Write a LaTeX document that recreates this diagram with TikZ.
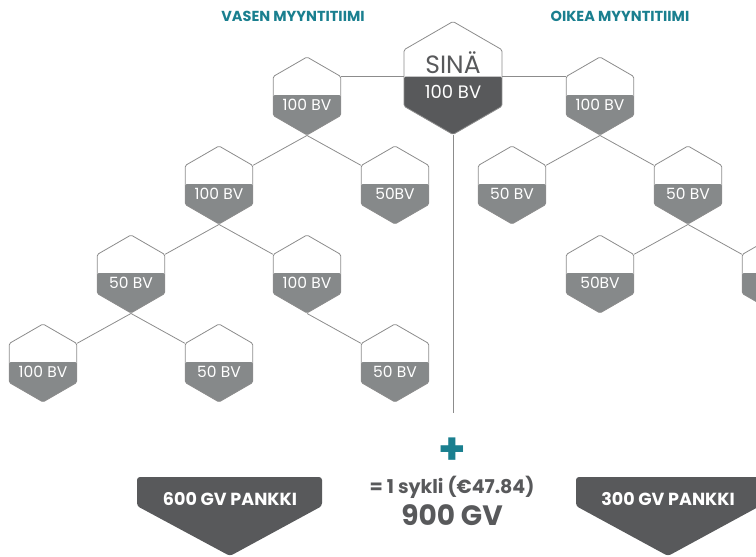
\documentclass[tikz,border=0pt]{standalone}
\usepackage{fontspec}
\setmainfont{Poppins}
\usetikzlibrary{shapes.geometric}
\definecolor{teamteal}{HTML}{1A7F8F}
\definecolor{darkhex}{HTML}{58595B}
\definecolor{midhex}{HTML}{86898A}
\definecolor{linegray}{HTML}{8C8C8C}
\tikzset{
	hexbox/.style={regular polygon, regular polygon sides=6, shape border rotate=30, minimum size=78pt, inner sep=0pt, draw=linegray, line width=0.8pt, fill=white, rounded corners=1.5pt,
		path picture={\fill[midhex] ([yshift=1pt]path picture bounding box.west) rectangle (path picture bounding box.south east);}},
	sinabox/.style={hexbox, minimum size=113pt,
		path picture={\fill[darkhex] ([yshift=1.5pt]path picture bounding box.west) rectangle (path picture bounding box.south east);}},
	hexlabel/.style={text=white, font=\fontsize{15.5}{15.5}\selectfont},
	teamlabel/.style={text=teamteal, font=\bfseries\fontsize{14.5}{14.5}\selectfont},
	banklabel/.style={text=white, font=\bfseries\fontsize{17.5}{17.5}\selectfont},
	edge/.style={draw=linegray, line width=0.8pt}
}
\begin{document}
\begin{tikzpicture}[x=1pt,y=-1pt]
	\useasboundingbox (0,0) rectangle (756,557);
	\clip (0,0) rectangle (756,557);
	% team titles
	\node[teamlabel] (lefttitle) at (293,16) {VASEN MYYNTITIIMI};
	\node[teamlabel] (righttitle) at (620,16) {OIKEA MYYNTITIIMI};
	% you
	\node[sinabox] (sina) at (453,78) {};
	\node[text=darkhex, font=\fontsize{25}{25}\selectfont] (sinatext) at ([yshift=15pt]sina.center) {SIN\"A};
	\node[text=white, font=\fontsize{18}{18}\selectfont] (sinabv) at ([yshift=-13.5pt]sina.center) {100 BV};
	% left team
	\node[hexbox] (l1) at (307,96) {};
	\node[hexbox] (l2a) at (219,185) {};
	\node[hexbox] (l2b) at (395,185) {};
	\node[hexbox] (l3a) at (131,274) {};
	\node[hexbox] (l3b) at (307,274) {};
	\node[hexbox] (l4a) at (43,363) {};
	\node[hexbox] (l4b) at (219,363) {};
	\node[hexbox] (l4c) at (395,363) {};
	% right team
	\node[hexbox] (r1) at (600,96) {};
	\node[hexbox] (r2a) at (512,185) {};
	\node[hexbox] (r2b) at (688,185) {};
	\node[hexbox] (r3a) at (600,274) {};
	\node[hexbox] (r3b) at (776,274) {};
	% values
	\node[hexlabel] at ([yshift=-9pt]l1.center) {100 BV};
	\node[hexlabel] at ([yshift=-9pt]l2a.center) {100 BV};
	\node[hexlabel] at ([yshift=-9pt]l2b.center) {50BV};
	\node[hexlabel] at ([yshift=-9pt]l3a.center) {50 BV};
	\node[hexlabel] at ([yshift=-9pt]l3b.center) {100 BV};
	\node[hexlabel] at ([yshift=-9pt]l4a.center) {100 BV};
	\node[hexlabel] at ([yshift=-9pt]l4b.center) {50 BV};
	\node[hexlabel] at ([yshift=-9pt]l4c.center) {50 BV};
	\node[hexlabel] at ([yshift=-9pt]r1.center) {100 BV};
	\node[hexlabel] at ([yshift=-9pt]r2a.center) {50 BV};
	\node[hexlabel] at ([yshift=-9pt]r2b.center) {50 BV};
	\node[hexlabel] at ([yshift=-9pt]r3a.center) {50BV};
	% connectors
	\draw[edge] (l1.30) -- (l1.30 -| sina.west);
	\draw[edge] (r1.150) -- (r1.150 -| sina.east);
	\draw[edge] (l1.-90) -- (l2a.30);
	\draw[edge] (l1.-90) -- (l2b.150);
	\draw[edge] (l2a.-90) -- (l3a.30);
	\draw[edge] (l2a.-90) -- (l3b.150);
	\draw[edge] (l3a.-90) -- (l4a.30);
	\draw[edge] (l3a.-90) -- (l4b.150);
	\draw[edge] (l3b.-90) -- (l4c.150);
	\draw[edge] (r1.-90) -- (r2a.30);
	\draw[edge] (r1.-90) -- (r2b.150);
	\draw[edge] (r2b.-90) -- (r3a.30);
	\draw[edge] (r2b.-90) -- (r3b.150);
	\coordinate (stem) at (453,413);
	\draw[edge] (sina.-90) -- (stem);
	% banks
	\fill[darkhex, rounded corners=3pt] (137,477) -- (322,477) -- (322,506) -- (230,556) -- (137,506) -- cycle;
	\node[banklabel] (leftbank) at (230,499) {600 GV PANKKI};
	\fill[darkhex, rounded corners=3pt] (576,477) -- (760,477) -- (760,506) -- (668,556) -- (576,506) -- cycle;
	\node[banklabel] (rightbank) at (668,499) {300 GV PANKKI};
	% total
	\node[text=teamteal, font=\bfseries\fontsize{44}{44}\selectfont] (plus) at (452,451) {+};
	\node[text=darkhex, font=\bfseries\fontsize{19}{19}\selectfont] (cycle) at (452,487) {= 1 sykli (€47.84)};
	\node[text=darkhex, font=\bfseries\fontsize{28}{28}\selectfont] (total) at (452,515) {900 GV};
	\end{tikzpicture}
\end{document}
